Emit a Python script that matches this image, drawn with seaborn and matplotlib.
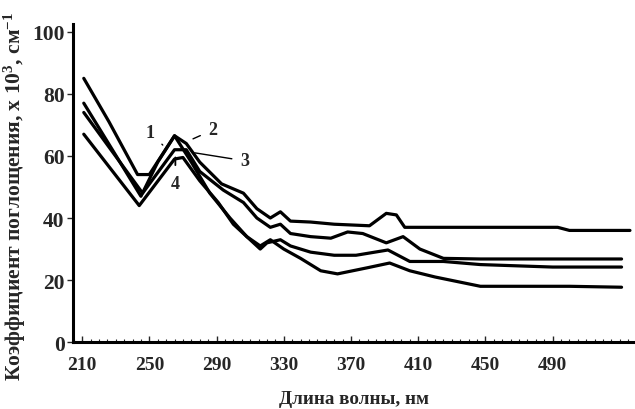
import numpy as np
import pandas as pd
import matplotlib
matplotlib.use("Agg")
import matplotlib.pyplot as plt
import seaborn as sns
from matplotlib.ticker import MultipleLocator, FixedLocator

# wavelengths (nm) and absorption coefficients (x10^3 cm^-1) for each curve
wl1 = [211, 245, 255, 265, 275, 286, 298, 308, 316, 322, 330, 340, 352, 362, 380, 393, 405, 420, 447, 500, 531]
k1  = [77, 47, 58, 66.5, 58, 48, 40, 34, 31, 33, 30, 27, 23, 22, 24, 25.5, 23, 21, 18, 18, 17.7]

wl2 = [211, 226, 236, 243, 250, 265, 272, 280, 293, 306, 314, 322, 328, 334, 346, 360, 381, 391, 397, 402, 493, 500, 536]
k2  = [85, 71, 61, 54, 54, 66.5, 64, 58, 51, 48, 43, 40, 42, 39, 38.7, 38, 37.5, 41.5, 41, 37, 37, 36, 36]

wl3 = [211, 246, 265, 272, 280, 294, 306, 314, 322, 328, 334, 346, 358, 368, 377, 391, 401, 411, 425, 447, 531]
k3  = [74, 48, 62, 62, 55, 49, 45, 40, 37, 38, 35, 34, 33.5, 35.5, 35, 32, 34, 30, 27, 26.8, 26.8]

wl4 = [211, 244, 265, 270, 280, 291, 300, 310, 316, 320, 328, 334, 346, 360, 373, 392, 405, 425, 447, 490, 531]
k4  = [67, 44, 59, 59.5, 52, 45, 38, 33, 30, 32, 33, 31, 29, 28, 28, 29.7, 26, 26, 25, 24.2, 24.2]

curve_labels = ["1", "2", "3", "4"]
x_ticks = [210, 250, 290, 330, 370, 410, 450, 490]
y_ticks = [0, 20, 40, 60, 80, 100]

frames = []
for name, w, k in zip(curve_labels, [wl1, wl2, wl3, wl4], [k1, k2, k3, k4]):
    frames.append(pd.DataFrame({"wl": w, "k": k, "curve": name}))
df = pd.concat(frames, ignore_index=True)

sns.set_theme(style="ticks")
plt.rcParams["font.family"] = ["Liberation Serif", "DejaVu Serif"]
plt.rcParams["font.weight"] = "bold"
plt.rcParams["mathtext.fontset"] = "custom"
plt.rcParams["mathtext.rm"] = "Liberation Serif:bold"
plt.rcParams["mathtext.bf"] = "Liberation Serif:bold"
plt.rcParams["mathtext.it"] = "Liberation Serif:bold"
plt.rcParams["mathtext.default"] = "bf"

fig = plt.figure(figsize=(6.35, 4.10), dpi=100)
ax = fig.add_axes([0.115, 0.163, 0.885, 0.776])

sns.lineplot(data=df, x="wl", y="k", units="curve", estimator=None, color="black",
             linewidth=2.3, ax=ax, legend=False, sort=False)

ax.set_xlim(204.6, 539)
ax.set_ylim(0, 102.5)
ax.xaxis.set_major_locator(FixedLocator(x_ticks))
ax.xaxis.set_minor_locator(MultipleLocator(5))
ax.yaxis.set_major_locator(FixedLocator(y_ticks))
ax.tick_params(axis="x", which="major", direction="in", length=4, width=1, labelsize=14, pad=10)
ax.tick_params(axis="x", which="minor", direction="in", length=2.5, width=0.8)
ax.tick_params(axis="y", which="major", direction="out", length=4, width=1, labelsize=15.5, pad=2)
for lab in ax.get_xticklabels() + ax.get_yticklabels():
    lab.set_fontweight("bold")

for side in ["top", "right"]:
    ax.spines[side].set_visible(False)
for side in ["left", "bottom"]:
    ax.spines[side].set_linewidth(2.2)
    ax.spines[side].set_color("black")

ax.set_xlabel("Длина волны, нм", fontsize=13.8, fontweight="bold", labelpad=12)
ax.set_ylabel("Коэффициент поглощения, х 10$^{3}$, см$^{-1}$", fontsize=15.5,
              fontweight="bold")
ax.yaxis.set_label_coords(-0.08, 0.462)

# curve number labels with leader lines
ax.annotate("1", xy=(258, 63.5), xytext=(250.5, 67.5), fontsize=13, fontweight="bold",
            ha="center", va="center", arrowprops=dict(arrowstyle="-", lw=1, color="black", shrinkA=4, shrinkB=0))
ax.annotate("2", xy=(276, 65.5), xytext=(288, 68.4), fontsize=13, fontweight="bold",
            ha="center", va="center", arrowprops=dict(arrowstyle="-", lw=1, color="black", shrinkA=4, shrinkB=0))
ax.annotate("3", xy=(277, 61), xytext=(307, 58.4), fontsize=13, fontweight="bold",
            ha="center", va="center", arrowprops=dict(arrowstyle="-", lw=1, color="black", shrinkA=4, shrinkB=0))
ax.annotate("4", xy=(265.5, 59.5), xytext=(265.5, 51), fontsize=13, fontweight="bold",
            ha="center", va="center", arrowprops=dict(arrowstyle="-", lw=1.3, color="black", shrinkA=5, shrinkB=0))

fig.savefig("out.png", dpi=100, facecolor="white")
